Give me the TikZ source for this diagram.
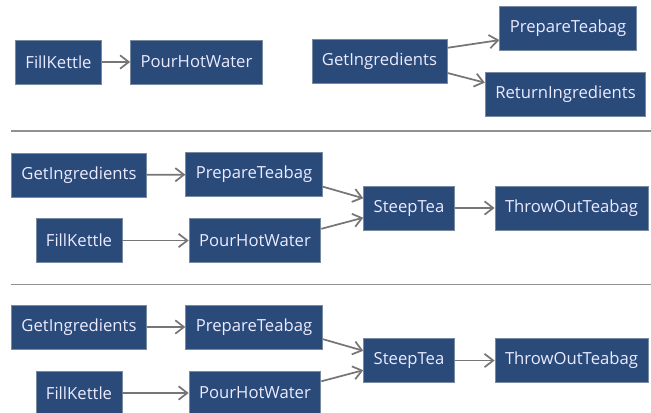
\documentclass[tikz,border=0pt]{standalone}
\usepackage{fontspec}
\newfontfamily\teafont{Open Sans}
\usetikzlibrary{arrows.meta}
\definecolor{teablue}{RGB}{42,74,122}
\definecolor{teaedge}{RGB}{120,138,160}
\definecolor{teagrey}{RGB}{118,118,118}
\begin{document}
\begin{tikzpicture}[
  x=0.75pt, y=-0.75pt,
  tea01box/.style = {draw=teaedge, line width=0.6pt, fill=teablue, text=white!92!blue,
    font=\teafont\fontsize{12.5}{14}\selectfont, minimum height=33pt, inner xsep=7.5pt},
  tea01arr/.style = {draw=teagrey, line width=1.3pt, -{Straight Barb[length=6.5pt,width=10pt]}},
  tea01sep/.style = {draw=teagrey!80, line width=1.2pt}
]
  \useasboundingbox (0,0) rectangle (651,413);
  % first row
  \node[tea01box] (fk1) at (58.5,62) {FillKettle};
  \node[tea01box] (pw1) at (196.5,62) {PourHotWater};
  \node[tea01box] (gi1) at (379.5,61) {GetIngredients};
  \node[tea01box] (pt1) at (568,28) {PrepareTeabag};
  \node[tea01box] (ri1) at (565.5,94) {ReturnIngredients};
  \draw[tea01arr] (fk1) -- (pw1);
  \draw[tea01arr] (gi1.11) -- (pt1.190);
  \draw[tea01arr] (gi1.-10) -- (ri1.172);
  \draw[tea01sep] (11,131) -- (651,131);
  % second row
  \node[tea01box] (gi2) at (79,175) {GetIngredients};
  \node[tea01box] (pt2) at (254,174.5) {PrepareTeabag};
  \node[tea01box] (fk2) at (79,240.5) {FillKettle};
  \node[tea01box] (pw2) at (255,240.5) {PourHotWater};
  \node[tea01box] (st2) at (409,208) {SteepTea};
  \node[tea01box] (to2) at (571.5,208) {ThrowOutTeabag};
  \draw[tea01arr] (gi2) -- (pt2);
  \draw[tea01arr] (fk2) -- (pw2);
  \draw[tea01arr] (pt2.-10) -- (st2.168);
  \draw[tea01arr] (pw2.10) -- (st2.192);
  \draw[tea01arr] (st2) -- (to2);
  \draw[tea01sep] (11,284.5) -- (651,284.5);
  % third row
  \node[tea01box] (gi3) at (79,327) {GetIngredients};
  \node[tea01box] (pt3) at (254,327) {PrepareTeabag};
  \node[tea01box] (fk3) at (79,393) {FillKettle};
  \node[tea01box] (pw3) at (255,393) {PourHotWater};
  \node[tea01box] (st3) at (409,360.5) {SteepTea};
  \node[tea01box] (to3) at (571.5,360.5) {ThrowOutTeabag};
  \draw[tea01arr] (gi3) -- (pt3);
  \draw[tea01arr] (fk3) -- (pw3);
  \draw[tea01arr] (pt3.-10) -- (st3.168);
  \draw[tea01arr] (pw3.10) -- (st3.192);
  \draw[tea01arr] (st3) -- (to3);
\end{tikzpicture}
\end{document}
